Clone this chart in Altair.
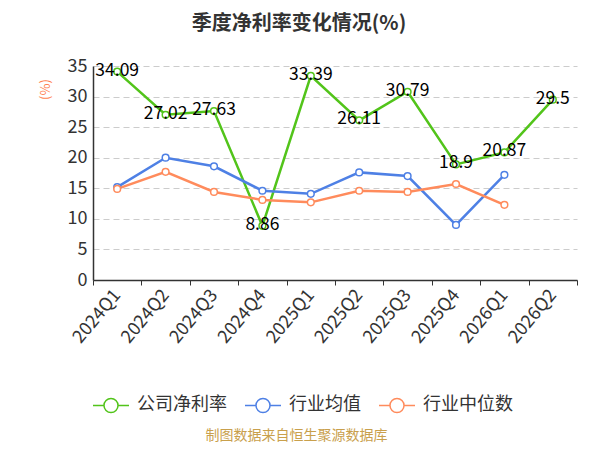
import altair as alt
import pandas as pd

quarters = ["2024Q1", "2024Q2", "2024Q3", "2024Q4", "2025Q1",
            "2025Q2", "2025Q3", "2025Q4", "2026Q1", "2026Q2"]
company = [34.09, 27.02, 27.63, 8.86, 33.39, 26.11, 30.79, 18.9, 20.87, 29.5]
ind_avg = [15.2, 20.0, 18.6, 14.6, 14.1, 17.6, 17.0, 9.0, 17.2]
ind_med = [14.9, 17.7, 14.4, 13.1, 12.7, 14.6, 14.4, 15.7, 12.3]
series_names = ["公司净利率", "行业均值", "行业中位数"]
colors = ["#52c41a", "#4e80e5", "#ff8b5c"]

rows = []
for name, vals in zip(series_names, [company, ind_avg, ind_med]):
    for q, v in zip(quarters, vals):
        rows.append({"q": q, "s": name, "v": v})
df = pd.DataFrame(rows)

FONT = "Noto Sans CJK SC"

x = alt.X("q:N", sort=quarters,
          scale=alt.Scale(type="band", domain=quarters, paddingInner=0, paddingOuter=0),
          axis=alt.Axis(title="制图数据来自恒生聚源数据库", titleColor="#c9a04c",
                        titleFontSize=14, titleFontWeight="normal", titleFont=FONT,
                        titleX=203, titleY=155, titleAlign="center", titleBaseline="middle",
                        labelAngle=310, labelAlign="right", labelBaseline="middle",
                        labelFontSize=18, labelColor="#333", labelFont=FONT, labelPadding=7,
                        tickBand="extent", ticks=True, tickSize=5, tickColor="#333",
                        domainColor="#333", domainWidth=1.5, grid=False))
y = alt.Y("v:Q", scale=alt.Scale(domain=[0, 35]),
          axis=alt.Axis(values=[0, 5, 10, 15, 20, 25, 30, 35], title="(%)",
                        titleColor="#ff7f50", titleFontSize=13, titleFontWeight="normal",
                        titleFont=FONT, titleX=-48, titleY=23, titleAngle=270,
                        titleAlign="center", titleBaseline="middle",
                        labelFontSize=18, labelColor="#333", labelFont=FONT, labelPadding=6,
                        ticks=False, domainColor="#333", domainWidth=1.5,
                        grid=True, gridColor="#cccccc", gridDash=[6, 4], gridWidth=1.2))

sym = "M-1,0L-0.39,0M0.39,0L1,0M-0.39,0A0.39,0.39,0,1,0,0.39,0A0.39,0.39,0,1,0,-0.39,0Z"

lines = alt.Chart(df).mark_line(strokeWidth=2.5).encode(
    x=x, y=y,
    color=alt.Color("s:N", sort=series_names,
                    scale=alt.Scale(domain=series_names, range=colors),
                    legend=alt.Legend(title=None, orient="none", direction="horizontal",
                                      legendX=-1, legendY=320, symbolType=sym,
                                      symbolSize=1296, symbolStrokeWidth=1.5,
                                      symbolFillColor="white", labelFontSize=18,
                                      labelColor="#333", labelFont=FONT,
                                      columnPadding=15, labelOffset=7))
)

points = alt.Chart(df).mark_point(filled=True, fill="white", size=45, strokeWidth=1.5, opacity=1).encode(
    x=x, y=y,
    stroke=alt.Stroke("s:N", sort=series_names,
                      scale=alt.Scale(domain=series_names, range=colors), legend=None)
)

labels = alt.Chart(df).transform_filter(alt.datum.s == "公司净利率").mark_text(
    fontSize=17.5, color="black", baseline="middle", dy=-1, font=FONT
).encode(x=x, y=y, text=alt.Text("v:Q"))

chart = alt.layer(lines, points, labels).properties(
    width=484, height=214,
    autosize=alt.AutoSizeParams(type="none"),
    padding={"left": 85, "top": 58, "right": 10, "bottom": 162},
    title=alt.TitleParams("季度净利率变化情况(%)", fontSize=20, fontWeight="bold",
                          color="#333", anchor="middle", dx=-36, offset=23, font=FONT),
).configure_view(stroke=None)

chart.save("out.html", embed_options={"renderer": "svg", "actions": False})
